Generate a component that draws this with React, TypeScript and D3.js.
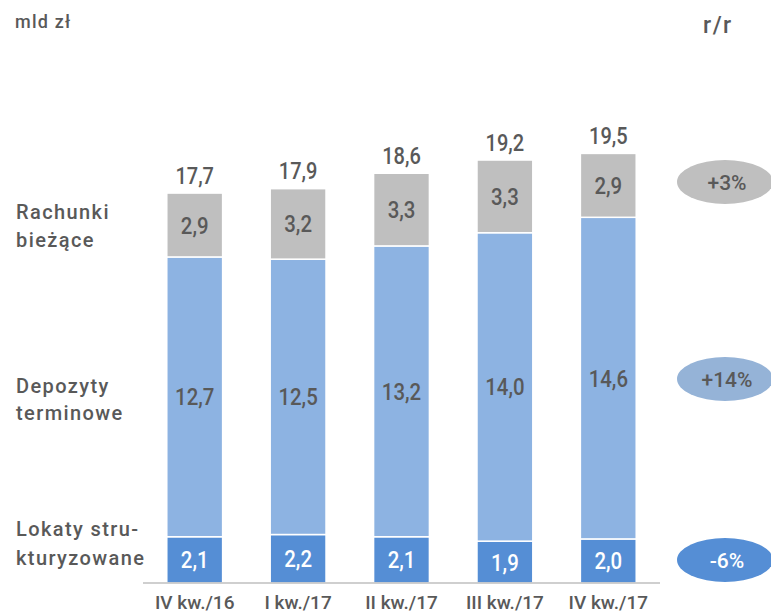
import React from "react";
import * as d3 from "d3";

const categories = ["IV kw./16", "I kw./17", "II kw./17", "III kw./17", "IV kw./17"];
const structured = [2.1, 2.2, 2.1, 1.9, 2.0];
const term = [12.7, 12.5, 13.2, 14.0, 14.6];
const current = [2.9, 3.2, 3.3, 3.3, 2.9];
const totals = [17.7, 17.9, 18.6, 19.2, 19.5];
const yoy = ["-6%", "+14%", "+3%"];

const W = 771;
const H = 614;
const FONT = "Roboto, 'DejaVu Sans', sans-serif";
const TXT = "#595959";
const colors = ["#558ED5", "#8DB3E2", "#BFBFBF"];
const ellipseColors = ["#558ED5", "#95B3D7", "#BFBFBF"];
const ellipseText = ["#FFFFFF", TXT, TXT];

const fmt = (v: number) => v.toFixed(1).replace(".", ",");

function CText({ x, y, size, fill, sx, children }: any) {
  return (
    <text
      transform={`translate(${x},${y}) scale(${sx},1)`}
      textAnchor="middle"
      fontSize={size}
      fill={fill}
    >
      {children}
    </text>
  );
}

export default function App() {
  const x = d3.scaleBand<string>().domain(categories).range([143, 660]).paddingInner(0.46).paddingOuter(0.23);
  const y = d3.scaleLinear().domain([0, 20]).range([583, 583 - 440.6]);

  const rows = categories.map((c, i) => ({ cat: c, s0: structured[i], s1: term[i], s2: current[i] }));
  const stack = d3.stack<any>().keys(["s0", "s1", "s2"])(rows);
  const seriesVals = [structured, term, current];

  const ellipseY = [560, 379, 182];

  return (
    <svg width={W} height={H} style={{ position: "absolute", left: 0, top: 0 }} fontFamily={FONT} fontWeight={500}>
      <rect width={W} height={H} fill="#fff" />
      <text x={15} y={28} fontSize={18} letterSpacing={1.2} fill={TXT}>mld zł</text>
      <text x={703} y={33} fontSize={23} letterSpacing={1.5} fill={TXT}>r/r</text>

      {stack.map((layer, li) =>
        layer.map((d, i) => {
          const x0 = x(categories[i])!;
          const y0 = y(d[1]);
          const y1 = y(d[0]);
          return (
            <rect key={`${li}-${i}`} x={x0} y={y0} width={x.bandwidth()} height={y1 - y0} fill={colors[li]} stroke="#fff" strokeWidth={1.5} />
          );
        })
      )}
      {stack.map((layer, li) =>
        layer.map((d, i) => {
          const cx = x(categories[i])! + x.bandwidth() / 2;
          const cy = (y(d[1]) + y(d[0])) / 2;
          return (
            <CText key={`t${li}-${i}`} x={cx} y={cy + 8.5} size={24} sx={0.85} fill={li === 0 ? "#fff" : TXT}>
              {fmt(seriesVals[li][i])}
            </CText>
          );
        })
      )}

      {totals.map((t, i) => (
        <CText key={i} x={x(categories[i])! + x.bandwidth() / 2} y={y(t) - 9.5} size={23} sx={0.87} fill={TXT}>
          {fmt(t)}
        </CText>
      ))}

      <line x1={143} x2={660} y1={583} y2={583} stroke="#BFBFBF" strokeWidth={1.5} />

      {categories.map((c) => (
        <text key={c} x={x(c)! + x.bandwidth() / 2} y={609} textAnchor="middle" fontSize={19} fill={TXT}>
          {c}
        </text>
      ))}

      <g fontSize={20} fill={TXT} letterSpacing={1.4}>
        <text x={16} y={219}>Rachunki</text>
        <text x={16} y={247}>bieżące</text>
        <text x={16} y={393}>Depozyty</text>
        <text x={16} y={420}>terminowe</text>
        <text x={16} y={536}>Lokaty stru-</text>
        <text x={16} y={565}>kturyzowane</text>
      </g>

      {yoy.map((v, i) => (
        <g key={v}>
          <ellipse cx={725} cy={ellipseY[i]} rx={48} ry={22} fill={ellipseColors[i]} />
          <text x={727} y={ellipseY[i] + 8} textAnchor="middle" fontSize={21} fill={ellipseText[i]}>
            {v}
          </text>
        </g>
      ))}
    </svg>
  );
}
